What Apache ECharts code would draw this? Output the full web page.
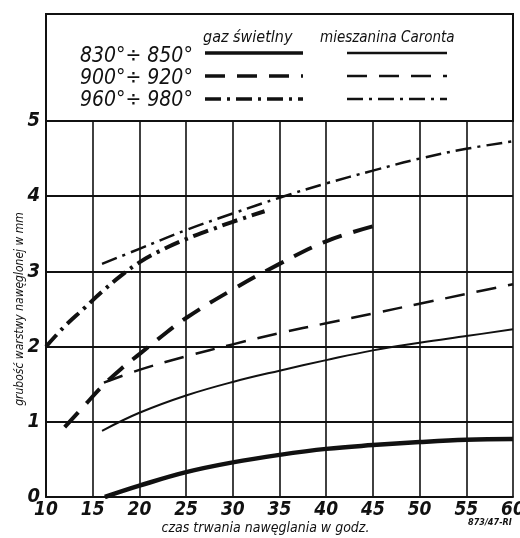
<!DOCTYPE html>
<html>
<head>
<meta charset="utf-8">
<style>
  html, body { margin: 0; padding: 0; background: #fff; }
  #chart { width: 520px; height: 538px; }
</style>
<script src="https://cdn.jsdelivr.net/npm/echarts@6/dist/echarts.min.js"></script>
</head>
<body>
<div id="chart"></div>
<script>
// ===== datos =====
const X_TICKS = [10, 15, 20, 25, 30, 35, 40, 45, 50, 55, 60];
const Y_TICKS = [0, 1, 2, 3, 4, 5];
const TEMPS = ['830°÷ 850°', '900°÷ 920°', '960°÷ 980°'];
const MEDIA = ['gaz świetlny', 'mieszanina Caronta'];

// gaz świetlny (grueso)
const gaz830 = [[16.3, 0], [20, 0.15], [25, 0.33], [30, 0.46], [35, 0.56], [40, 0.64], [45, 0.69], [50, 0.73], [55, 0.76], [60, 0.77]];
const gaz900 = [[12, 0.93], [14, 1.2], [16, 1.47], [18, 1.7], [20, 1.9], [22, 2.1], [25, 2.38], [30, 2.76], [35, 3.1], [40, 3.4], [45, 3.6]];
const gaz960 = [[10, 2.0], [12, 2.27], [14, 2.5], [16, 2.73], [18, 2.94], [20, 3.12], [22, 3.26], [25, 3.43], [28, 3.57], [30, 3.66], [33.4, 3.8]];
// mieszanina Caronta (fino)
const car830 = [[16, 0.88], [20, 1.12], [25, 1.35], [30, 1.53], [35, 1.68], [40, 1.82], [45, 1.95], [50, 2.05], [55, 2.14], [60, 2.23]];
const car900 = [[16.2, 1.52], [20, 1.69], [25, 1.87], [30, 2.03], [35, 2.18], [40, 2.31], [45, 2.44], [50, 2.57], [55, 2.7], [60, 2.83]];
const car960 = [[16, 3.1], [20, 3.3], [25, 3.55], [30, 3.77], [35, 3.98], [40, 4.17], [45, 4.34], [50, 4.5], [55, 4.63], [60, 4.73]];

// ---- estilo ----
const FONT = '"DejaVu Sans Condensed", "Liberation Sans Narrow", "DejaVu Sans", sans-serif';
const INK = '#111';
const DASH = [20, 12];
const DASHDOT = [16, 6, 3, 6];
const TYPES = ['solid', DASH, DASHDOT];

function serie(name, data, width, type) {
  return {
    name, type: 'line', data, smooth: 0.4, showSymbol: false, silent: true,
    lineStyle: { color: INK, width, type, cap: 'butt' },
  };
}

// ---- leyenda dibujada (cuadro superior) ----
function legendGraphics() {
  const g = [];
  g.push({ type: 'rect', shape: { x: 46, y: 14, width: 467, height: 107 },
    style: { fill: 'none', stroke: INK, lineWidth: 2 } });
  g.push({ type: 'text', x: 203, y: 38, style: { text: MEDIA[0], font: `italic 16px ${FONT}`, fill: INK, verticalAlign: 'middle' } });
  g.push({ type: 'text', x: 320, y: 38, style: { text: MEDIA[1], font: `italic 15px ${FONT}`, fill: INK, verticalAlign: 'middle' } });
  const rows = [57, 79, 101];
  const lineY = [53, 76, 99];
  TEMPS.forEach((t, i) => {
    g.push({ type: 'text', x: 80, y: rows[i], style: { text: t, font: `italic 21px ${FONT}`, fill: INK, verticalAlign: 'middle' } });
    const dash = TYPES[i] === 'solid' ? null : TYPES[i];
    g.push({ type: 'line', shape: { x1: 205, y1: lineY[i], x2: 303, y2: lineY[i] },
      style: { stroke: INK, lineWidth: 3.5, lineDash: dash } });
    g.push({ type: 'line', shape: { x1: 347, y1: lineY[i], x2: 447, y2: lineY[i] },
      style: { stroke: INK, lineWidth: 2.5, lineDash: dash } });
  });
  g.push({ type: 'text', x: 468, y: 523, style: { text: '873/47-RI', font: `italic bold 9px ${FONT}`, fill: INK, verticalAlign: 'middle' } });
  return g;
}

const chart = echarts.init(document.getElementById('chart'), null, { renderer: 'canvas' });
chart.setOption({
  animation: false,
  backgroundColor: '#fff',
  grid: { left: 46, right: 7, top: 121, bottom: 41, show: false, containLabel: false, outerBoundsMode: 'none' },
  xAxis: {
    type: 'value', min: X_TICKS[0], max: X_TICKS[X_TICKS.length - 1], interval: 5,
    axisLine: { show: true, lineStyle: { color: INK, width: 2 } },
    axisTick: { show: false },
    splitLine: { show: true, lineStyle: { color: INK, width: 1.6 } },
    axisLabel: { color: INK, fontFamily: FONT, fontStyle: 'italic', fontWeight: 'bold', fontSize: 19, margin: 4 },
    name: 'czas trwania nawęglania w godz.', nameLocation: 'middle', nameGap: 24, nameMoveOverlap: false,
    nameTextStyle: { color: INK, fontFamily: FONT, fontStyle: 'italic', fontSize: 14, padding: [0, 28, 0, 0] },
  },
  yAxis: {
    type: 'value', min: Y_TICKS[0], max: Y_TICKS[Y_TICKS.length - 1], interval: 1,
    axisLine: { show: true, lineStyle: { color: INK, width: 2 } },
    axisTick: { show: false },
    splitLine: { show: true, lineStyle: { color: INK, width: 2 } },
    axisLabel: { color: INK, fontFamily: FONT, fontStyle: 'italic', fontWeight: 'bold', fontSize: 20, margin: 6 },
    name: 'grubość warstwy nawęglonej w mm', nameLocation: 'middle', nameGap: 20, nameRotate: 90, nameMoveOverlap: false,
    nameTextStyle: { color: INK, fontFamily: FONT, fontStyle: 'italic', fontSize: 12 },
  },
  series: [
    serie('830 gaz', gaz830, 4.5, 'solid'),
    serie('900 gaz', gaz900, 4, DASH),
    serie('960 gaz', gaz960, 4, DASHDOT),
    serie('830 Caronta', car830, 2, 'solid'),
    serie('900 Caronta', car900, 2.5, DASH),
    serie('960 Caronta', car960, 2.5, DASHDOT),
  ],
  graphic: legendGraphics(),
});
</script>
</body>
</html>
